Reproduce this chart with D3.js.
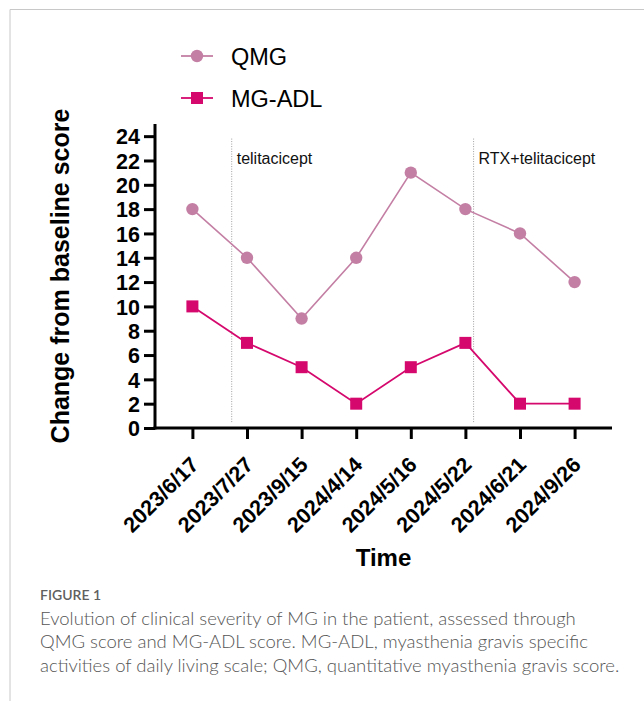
<!DOCTYPE html>
<html>
<head>
<meta charset="utf-8">
<script src="https://cdn.jsdelivr.net/npm/d3@7"></script>
<style>
  body { margin: 0; background: #fff; }
  svg { display: block; }
</style>
</head>
<body>
<div id="chart"></div>
<script>
// data
const dates = ["2023/6/17", "2023/7/27", "2023/9/15", "2024/4/14", "2024/5/16", "2024/5/22", "2024/6/21", "2024/9/26"];
const qmg = [18, 14, 9, 14, 21, 18, 16, 12];
const mgadl = [10, 7, 5, 2, 5, 7, 2, 2];
const yTicks = [0, 2, 4, 6, 8, 10, 12, 14, 16, 18, 20, 22, 24];
// treatment markers (position in category units)
const markers = [
  { pos: 0.72, label: "telitacicept" },
  { pos: 5.15, label: "RTX+telitacicept" }
];
const captionLines = [
  "Evolution of clinical severity of MG in the patient, assessed through",
  "QMG score and MG-ADL score. MG-ADL, myasthenia gravis specific",
  "activities of daily living scale; QMG, quantitative myasthenia gravis score."
];

const W = 644, H = 701;
const cQMG = "#c47fa4", cADL = "#d5086d";
const FONT = "Liberation Sans, Arial, sans-serif";

const svg = d3.select("#chart").append("svg")
  .attr("width", W).attr("height", H);

// frame lines (top + left)
svg.append("path")
  .attr("d", `M10,${H} V9.5 H${W}`)
  .attr("fill", "none").attr("stroke", "#c8c8c8").attr("stroke-width", 1);

const pLeft = 155, pRight = 612, pTop = 124, pBottom = 428;

const x = d3.scalePoint().domain(d3.range(dates.length))
  .range([pLeft, pRight]).padding(0.685);
const step = x.step();
const xPos = p => x(0) + p * step;

const y = d3.scaleLinear().domain([0, 25]).range([pBottom, pTop]);

// dotted marker lines + labels
markers.forEach(m => {
  svg.append("line")
    .attr("x1", xPos(m.pos)).attr("x2", xPos(m.pos))
    .attr("y1", y(23.8)).attr("y2", y(0.4))
    .attr("stroke", "#888").attr("stroke-width", 0.8)
    .attr("stroke-dasharray", "1,1.5");
  svg.append("text")
    .attr("x", xPos(m.pos) + 5).attr("y", 164)
    .attr("font-family", FONT)
    .attr("font-size", 16).attr("fill", "#111")
    .text(m.label);
});

// axes
const yAxis = svg.append("g")
  .attr("transform", `translate(${pLeft},0)`)
  .call(d3.axisLeft(y).tickValues(yTicks).tickSize(11).tickPadding(4).tickSizeOuter(0));
const xAxis = svg.append("g")
  .attr("transform", `translate(0,${pBottom})`)
  .call(d3.axisBottom(x).tickSize(11).tickSizeOuter(0).tickFormat(i => dates[i]));

[yAxis, xAxis].forEach(g => {
  g.select(".domain").attr("stroke", "#000").attr("stroke-width", 3);
  g.selectAll(".tick line").attr("stroke", "#000").attr("stroke-width", 3);
  g.selectAll("text")
    .attr("font-family", FONT)
    .attr("font-weight", "bold").attr("font-size", 21.5).attr("fill", "#000");
});
xAxis.select(".domain").attr("d", `M${pLeft - 1.5},0H${pRight}`);
yAxis.select(".domain").attr("d", `M0,${pTop}V${pBottom + 1.5}`);

xAxis.selectAll(".tick text")
  .attr("text-anchor", "end")
  .attr("dy", null)
  .attr("transform", "translate(7,38) rotate(-45)")
  .attr("y", 0).attr("x", 0);
yAxis.selectAll(".tick text").attr("dy", "0.36em");

// axis titles
svg.append("text")
  .attr("transform", `translate(68.5,${(pTop + pBottom) / 2}) rotate(-90)`)
  .attr("text-anchor", "middle")
  .attr("font-family", FONT)
  .attr("font-weight", "bold").attr("font-size", 25)
  .text("Change from baseline score");

svg.append("text")
  .attr("x", (pLeft + pRight) / 2).attr("y", 566)
  .attr("text-anchor", "middle")
  .attr("font-family", FONT)
  .attr("font-weight", "bold").attr("font-size", 24)
  .text("Time");

// lines
const line = d3.line().x((d, i) => x(i)).y(d => y(d));

svg.append("path").datum(qmg)
  .attr("d", line).attr("fill", "none")
  .attr("stroke", cQMG).attr("stroke-width", 1.6);
svg.append("path").datum(mgadl)
  .attr("d", line).attr("fill", "none")
  .attr("stroke", cADL).attr("stroke-width", 1.8);

svg.selectAll(".qmg").data(qmg).enter().append("circle")
  .attr("class", "qmg")
  .attr("cx", (d, i) => x(i)).attr("cy", d => y(d))
  .attr("r", 6.2).attr("fill", cQMG);

const sq = 12;
svg.selectAll(".adl").data(mgadl).enter().append("rect")
  .attr("class", "adl")
  .attr("x", (d, i) => x(i) - sq / 2).attr("y", d => y(d) - sq / 2)
  .attr("width", sq).attr("height", sq).attr("fill", cADL);

// legend
const legend = [
  { name: "QMG", color: cQMG, shape: "circle", yy: 56 },
  { name: "MG-ADL", color: cADL, shape: "square", yy: 98 }
];
legend.forEach(l => {
  svg.append("line")
    .attr("x1", 181).attr("x2", 213).attr("y1", l.yy).attr("y2", l.yy)
    .attr("stroke", l.color).attr("stroke-width", 1.8);
  if (l.shape === "circle") {
    svg.append("circle").attr("cx", 197).attr("cy", l.yy).attr("r", 6.2).attr("fill", l.color);
  } else {
    svg.append("rect").attr("x", 197 - sq / 2).attr("y", l.yy - sq / 2)
      .attr("width", sq).attr("height", sq).attr("fill", l.color);
  }
  svg.append("text")
    .attr("x", 231).attr("y", l.yy + 8.5)
    .attr("font-family", FONT)
    .attr("font-size", 23.5).attr("fill", "#000")
    .text(l.name);
});

// caption
svg.append("text")
  .attr("x", 40).attr("y", 600)
  .attr("font-family", "Lato, Open Sans, sans-serif")
  .attr("font-size", 14).attr("font-weight", 600).attr("fill", "#606060")
  .text("FIGURE 1");

svg.selectAll(".cap").data(captionLines).enter().append("text")
  .attr("class", "cap")
  .attr("x", 40).attr("y", (d, i) => 624.5 + i * 23.7)
  .attr("font-family", "Lato, Open Sans, sans-serif")
  .attr("font-size", 18.5).attr("font-weight", 300).attr("fill", "#555")
  .text(d => d);
</script>
</body>
</html>
